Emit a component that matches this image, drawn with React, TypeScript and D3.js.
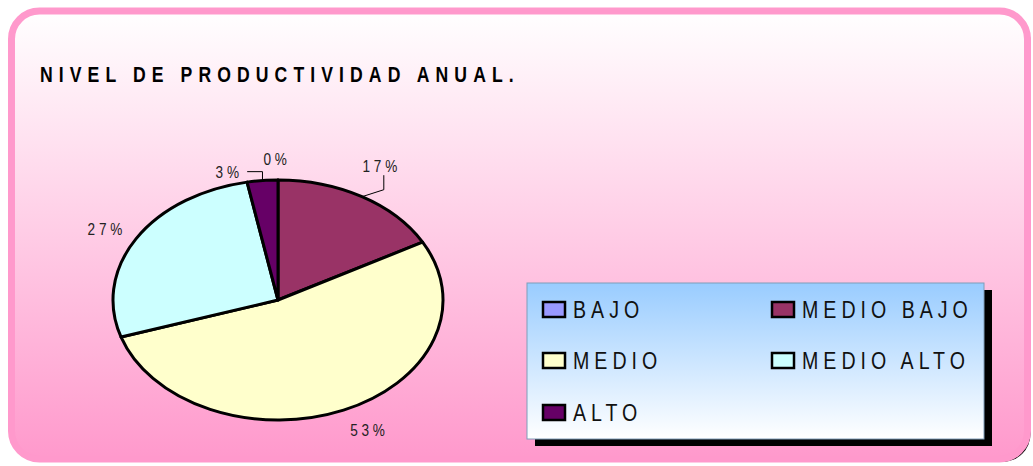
import * as d3 from 'd3';

const categories = ['BAJO', 'MEDIO BAJO', 'MEDIO', 'MEDIO ALTO', 'ALTO'];
const values = [0, 17, 53, 27, 3];
const colors = ['#9999FF', '#993366', '#FFFFCC', '#CCFFFF', '#660066'];
const title = 'NIVEL DE PRODUCTIVIDAD ANUAL.';

const W = 1033, H = 466;
// Arial Narrow look-alike: Liberation Sans squeezed horizontally
const FONT = '"Liberation Sans", Arial, sans-serif';
const NARROW = 0.8;

// pie geometry (flattened ellipse like the original)
const cx = 278, cy = 300, rx = 165, ry = 120;
const labelRx = 200, labelRy = 145;
// manual nudges for labels Excel moved away from the default spot
const labelNudge = [[-3, 4], [0, -9], [10, -3], [-1, 3], [-32, 16]];

function NarrowText({ x, y, size, spacing, anchor = 'start', weight = 'normal', fill = '#111', children }: any) {
  return (
    <text transform={`translate(${x},${y}) scale(${NARROW},1)`} textAnchor={anchor}
      fontFamily={FONT} fontSize={size} fontWeight={weight} letterSpacing={spacing / NARROW} fill={fill}>
      {children}
    </text>
  );
}

export default function App() {
  const pie = d3.pie<number>().sort(null).value((d) => d)(values);
  const arc = d3.arc<d3.PieArcDatum<number>>().innerRadius(0).outerRadius(rx);
  const total = d3.sum(values);
  const k = ry / rx;

  const labels = pie.map((p, i) => {
    const a = (p.startAngle + p.endAngle) / 2;
    const x = cx + labelRx * Math.sin(a) + labelNudge[i][0];
    const y = cy - labelRy * Math.cos(a) + labelNudge[i][1];
    const ex = cx + rx * Math.sin(a);
    const ey = cy - ry * Math.cos(a);
    return { a, x, y, ex, ey, text: `${Math.round((values[i] / total) * 100)}%`, i };
  });

  const leader = (l: typeof labels[number]) => {
    if (l.i === 1) {
      const lx = l.x + 4;
      return `M${l.ex},${l.ey}L${lx},${l.ey - 7}L${lx},${l.y + 9}`;
    }
    if (l.i === 4) {
      return `M${l.ex},${l.ey}L${l.ex},${l.y}L${l.x + 20},${l.y}`;
    }
    return null;
  };

  // legend layout
  const lg = { x: 527, y: 283, w: 457, h: 156 };
  const colX = d3.scaleOrdinal<number, number>().domain([0, 1]).range([542, 771]);
  const rowY = d3.scaleOrdinal<number, number>().domain([0, 1, 2]).range([309, 360, 412]);

  return (
    <svg width={W} height={H} style={{ position: 'absolute', left: 0, top: 0, display: 'block' }}>
      <defs>
        <linearGradient id="bg" x1="0" y1="0" x2="0" y2="1">
          <stop offset="0" stopColor="#FFFFFF" />
          <stop offset="1" stopColor="#FF99CC" />
        </linearGradient>
        <linearGradient id="lgbg" x1="0" y1="0" x2="0" y2="1">
          <stop offset="0" stopColor="#99CCFF" />
          <stop offset="1" stopColor="#FFFFFF" />
        </linearGradient>
      </defs>
      <rect x={14.5} y={14} width={1016} height={448} rx={28} fill="#000" />
      <rect x={11.5} y={11} width={1016} height={448} rx={28} fill="url(#bg)" stroke="#FF99CC" strokeWidth={7} />

      <NarrowText x={40} y={82} size={22} spacing={6.1} weight="bold" fill="#000">{title}</NarrowText>

      <g transform={`translate(${cx},${cy}) scale(1,${k})`}>
        {pie.map((p, i) => (
          <path key={i} d={arc(p) || ''} fill={colors[i]} stroke="#000" strokeWidth={3}
            strokeLinejoin="round" vectorEffect="non-scaling-stroke" />
        ))}
      </g>

      {labels.map((l) => {
        const d = leader(l);
        return d ? <path key={'ld' + l.i} d={d} fill="none" stroke="#000" strokeWidth={1} /> : null;
      })}
      {labels.map((l) => (
        <NarrowText key={'lb' + l.i} x={l.x + 2} y={l.y + 6} size={17} spacing={3.8} anchor="middle" fill="#222">
          {l.text}
        </NarrowText>
      ))}

      <rect x={lg.x + 8} y={lg.y + 7} width={lg.w} height={lg.h} fill="#000" />
      <rect x={lg.x} y={lg.y} width={lg.w} height={lg.h} fill="url(#lgbg)" stroke="#7F9DB9" strokeWidth={1} />
      {categories.map((c, i) => {
        const x = colX(i % 2);
        const y = rowY(Math.floor(i / 2));
        return (
          <g key={c}>
            <rect x={x + 1} y={y - 7} width={22} height={15} fill={colors[i]} stroke="#000" strokeWidth={2.5} />
            <NarrowText x={x + 31} y={y + 9} size={24.5} spacing={5} fill="#111">{c}</NarrowText>
          </g>
        );
      })}
    </svg>
  );
}
